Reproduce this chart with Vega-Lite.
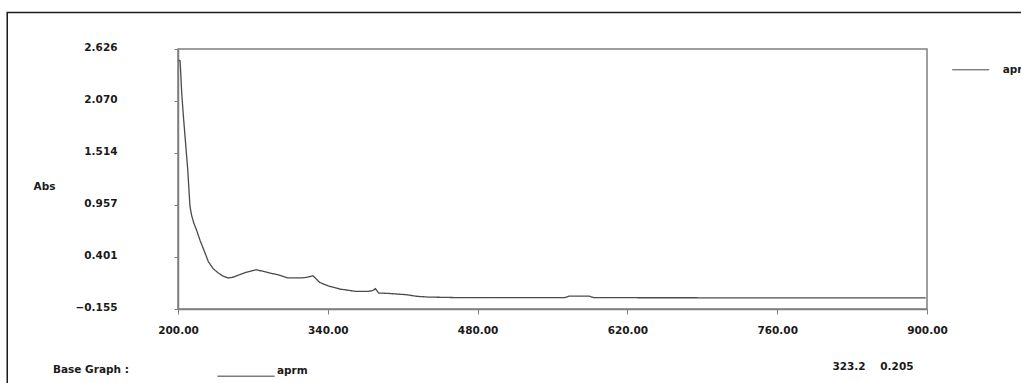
{
  "$schema": "https://vega.github.io/schema/vega-lite/v6.json",
  "width": 749,
  "height": 260,
  "autosize": {"type": "none"},
  "padding": {"left": 178, "top": 49, "right": 94, "bottom": 74},
  "background": "white",
  "config": {
    "font": "DejaVu Sans",
    "view": {"stroke": "#7f7f7f", "strokeWidth": 1.5},
    "axis": {
      "grid": false,
      "domainColor": "#7f7f7f",
      "domainWidth": 1.5,
      "tickColor": "#7f7f7f",
      "tickWidth": 1,
      "labelFont": "DejaVu Sans",
      "labelFontSize": 10.5,
      "labelFontWeight": "bold",
      "labelColor": "#1a1a1a",
      "labelFlush": false,
      "labelOverlap": false,
      "titleFont": "DejaVu Sans",
      "titleFontSize": 10.5,
      "titleFontWeight": "bold",
      "titleColor": "#1a1a1a"
    },
    "legend": {
      "labelFont": "DejaVu Sans",
      "labelFontSize": 10.5,
      "labelFontWeight": "bold",
      "labelColor": "#1a1a1a",
      "titleFont": "DejaVu Sans",
      "titleFontSize": 10.5,
      "titleFontWeight": "bold",
      "titleColor": "#1a1a1a"
    }
  },
  "data": {
    "values": [
      {"nm": 200.65, "abs": 2.506, "sample": "aprm", "base": "aprm"},
      {"nm": 201.9, "abs": 2.501, "sample": "aprm", "base": "aprm"},
      {"nm": 202.5, "abs": 2.383, "sample": "aprm", "base": "aprm"},
      {"nm": 203.5, "abs": 2.148, "sample": "aprm", "base": "aprm"},
      {"nm": 205.3, "abs": 1.87, "sample": "aprm", "base": "aprm"},
      {"nm": 207.2, "abs": 1.602, "sample": "aprm", "base": "aprm"},
      {"nm": 209.1, "abs": 1.335, "sample": "aprm", "base": "aprm"},
      {"nm": 211.2, "abs": 0.942, "sample": "aprm", "base": "aprm"},
      {"nm": 212.8, "abs": 0.843, "sample": "aprm", "base": "aprm"},
      {"nm": 214.7, "abs": 0.768, "sample": "aprm", "base": "aprm"},
      {"nm": 217.5, "abs": 0.683, "sample": "aprm", "base": "aprm"},
      {"nm": 220.7, "abs": 0.576, "sample": "aprm", "base": "aprm"},
      {"nm": 223.7, "abs": 0.49, "sample": "aprm", "base": "aprm"},
      {"nm": 228.4, "abs": 0.351, "sample": "aprm", "base": "aprm"},
      {"nm": 232.9, "abs": 0.276, "sample": "aprm", "base": "aprm"},
      {"nm": 237.7, "abs": 0.23, "sample": "aprm", "base": "aprm"},
      {"nm": 242.2, "abs": 0.196, "sample": "aprm", "base": "aprm"},
      {"nm": 247.0, "abs": 0.177, "sample": "aprm", "base": "aprm"},
      {"nm": 251.5, "abs": 0.185, "sample": "aprm", "base": "aprm"},
      {"nm": 257.6, "abs": 0.212, "sample": "aprm", "base": "aprm"},
      {"nm": 264.1, "abs": 0.239, "sample": "aprm", "base": "aprm"},
      {"nm": 273.2, "abs": 0.265, "sample": "aprm", "base": "aprm"},
      {"nm": 279.1, "abs": 0.249, "sample": "aprm", "base": "aprm"},
      {"nm": 285.6, "abs": 0.23, "sample": "aprm", "base": "aprm"},
      {"nm": 293.3, "abs": 0.212, "sample": "aprm", "base": "aprm"},
      {"nm": 302.7, "abs": 0.177, "sample": "aprm", "base": "aprm"},
      {"nm": 315.2, "abs": 0.177, "sample": "aprm", "base": "aprm"},
      {"nm": 321.1, "abs": 0.185, "sample": "aprm", "base": "aprm"},
      {"nm": 326.0, "abs": 0.201, "sample": "aprm", "base": "aprm"},
      {"nm": 329.0, "abs": 0.169, "sample": "aprm", "base": "aprm"},
      {"nm": 332.3, "abs": 0.13, "sample": "aprm", "base": "aprm"},
      {"nm": 340.0, "abs": 0.094, "sample": "aprm", "base": "aprm"},
      {"nm": 350.9, "abs": 0.059, "sample": "aprm", "base": "aprm"},
      {"nm": 366.5, "abs": 0.033, "sample": "aprm", "base": "aprm"},
      {"nm": 377.3, "abs": 0.033, "sample": "aprm", "base": "aprm"},
      {"nm": 381.7, "abs": 0.041, "sample": "aprm", "base": "aprm"},
      {"nm": 384.5, "abs": 0.062, "sample": "aprm", "base": "aprm"},
      {"nm": 387.6, "abs": 0.016, "sample": "aprm", "base": "aprm"},
      {"nm": 396.0, "abs": 0.012, "sample": "aprm", "base": "aprm"},
      {"nm": 413.2, "abs": -0.002, "sample": "aprm", "base": "aprm"},
      {"nm": 423.7, "abs": -0.02, "sample": "aprm", "base": "aprm"},
      {"nm": 433.1, "abs": -0.027, "sample": "aprm", "base": "aprm"},
      {"nm": 464.5, "abs": -0.034, "sample": "aprm", "base": "aprm"},
      {"nm": 560.9, "abs": -0.034, "sample": "aprm", "base": "aprm"},
      {"nm": 565.6, "abs": -0.018, "sample": "aprm", "base": "aprm"},
      {"nm": 584.3, "abs": -0.018, "sample": "aprm", "base": "aprm"},
      {"nm": 588.9, "abs": -0.034, "sample": "aprm", "base": "aprm"},
      {"nm": 898.8, "abs": -0.037, "sample": "aprm", "base": "aprm"}
    ]
  },
  "layer": [
    {
      "data": {"values": [{}]},
      "mark": {"type": "rect", "filled": false, "stroke": "#1a1a1a", "strokeWidth": 1.5},
      "encoding": {
        "x": {"datum": 40.4, "type": "quantitative", "scale": {"domain": [200, 900], "nice": false, "zero": false}},
        "x2": {"datum": 1200},
        "y": {"datum": 3.017, "type": "quantitative", "scale": {"domain": [-0.155, 2.626], "nice": false, "zero": false}},
        "y2": {"datum": -1.5}
      }
    },
    {
      "mark": {"type": "line", "strokeWidth": 1.3},
      "encoding": {
        "x": {
          "field": "nm",
          "type": "quantitative",
          "scale": {"domain": [200, 900], "nice": false, "zero": false},
          "axis": {
            "title": "323.2\u00a0\u00a0\u00a0\u00a00.205",
            "titleAlign": "right",
            "titleAnchor": "end",
            "titleBaseline": "middle",
            "titleX": 735,
            "titleY": 57,
            "values": [200, 340, 480, 620, 760, 900],
            "format": ".2f",
            "tickSize": 5,
            "labelPadding": 11
          }
        },
        "y": {
          "field": "abs",
          "type": "quantitative",
          "scale": {"domain": [-0.155, 2.626], "nice": false, "zero": false},
          "axis": {
            "title": "Abs",
            "titleAngle": 0,
            "titleX": -134,
            "titleY": 137,
            "titleAlign": "center",
            "titleBaseline": "middle",
            "values": [-0.155, 0.401, 0.957, 1.514, 2.07, 2.626],
            "format": ".3f",
            "tickSize": 4,
            "labelPadding": 57,
            "labelOffset": -1.5
          }
        },
        "color": {
          "field": "sample",
          "type": "nominal",
          "scale": {"range": ["#4a4a4a"]},
          "legend": {
            "orient": "none",
            "legendX": 773.7,
            "legendY": 1.8,
            "title": null,
            "padding": 0,
            "symbolType": "stroke",
            "symbolSize": 1369,
            "symbolStrokeWidth": 1,
            "labelOffset": 13
          }
        },
        "strokeDash": {
          "field": "base",
          "type": "nominal",
          "scale": {"range": [[1, 0]]},
          "legend": {
            "orient": "none",
            "legendX": -125,
            "legendY": 292.5,
            "title": "Base Graph :",
            "titleOrient": "left",
            "titleAnchor": "end",
            "titleBaseline": "line-bottom",
            "titleLineHeight": 18.5,
            "titlePadding": 88,
            "padding": 0,
            "symbolType": "M-1,0.2L1,0.2",
            "symbolSize": 3249,
            "symbolStrokeWidth": 1,
            "symbolStrokeColor": "#1a1a1a",
            "labelOffset": 2
          }
        }
      }
    }
  ]
}
